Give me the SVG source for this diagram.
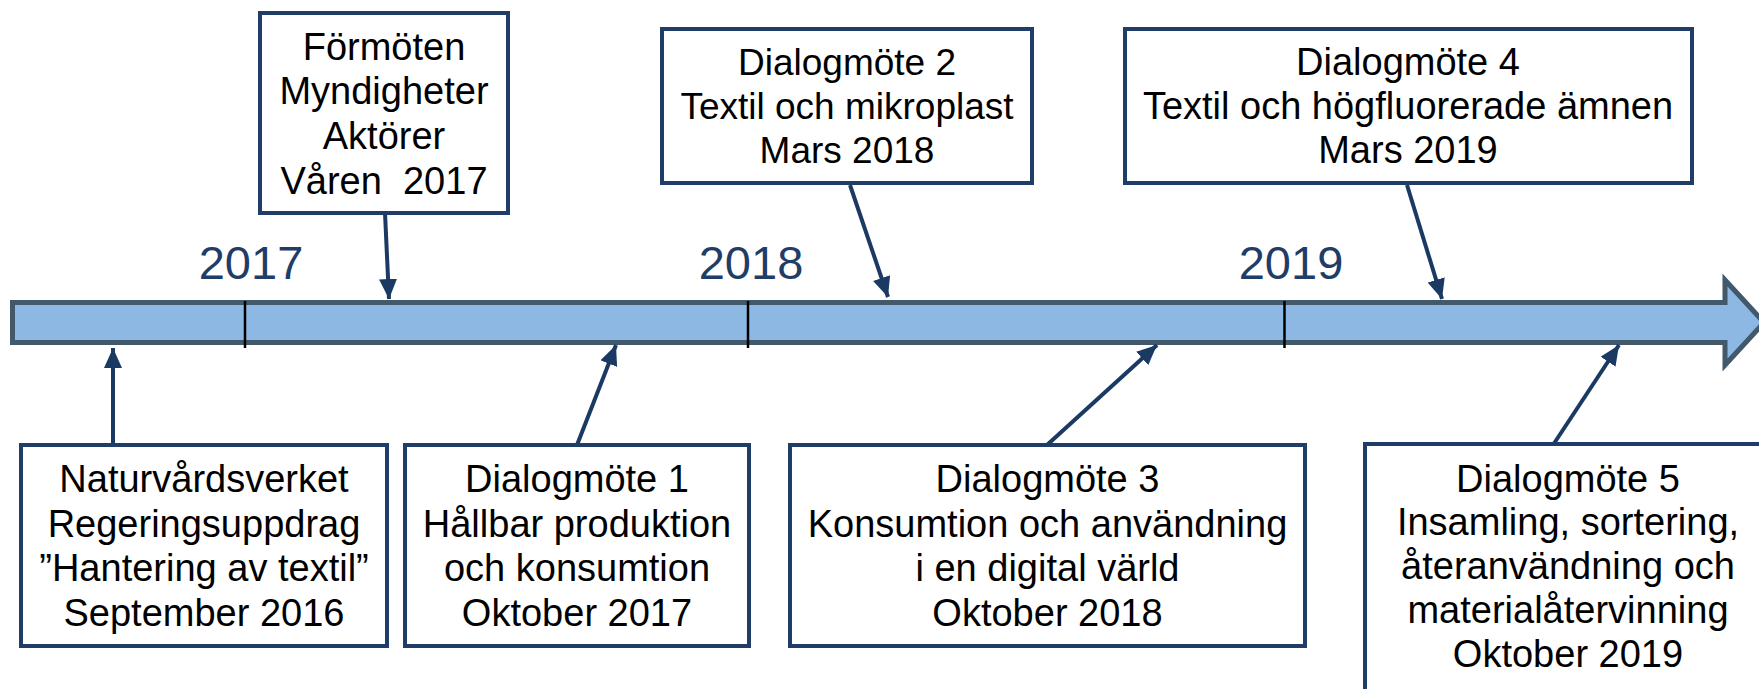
<svg xmlns="http://www.w3.org/2000/svg" width="1759" height="689" viewBox="0 0 1759 689">
<defs>
<style>
.box{fill:#ffffff;stroke:#1F3D66;stroke-width:4}
.t{font-family:"Liberation Sans",Arial,sans-serif;font-size:38px;fill:#000;text-anchor:middle}
.yr{font-family:"Liberation Sans",Arial,sans-serif;font-size:47px;fill:#1F3D66;text-anchor:middle}
.con{stroke:#1B3A63;stroke-width:4;fill:none;marker-end:url(#ah)}
.tick{stroke:#000;stroke-width:2.5}
</style>
<marker id="ah" markerUnits="userSpaceOnUse" markerWidth="20" markerHeight="18" viewBox="0 0 20 18" refX="20" refY="9" orient="auto">
<path d="M0,0 L20,9 L0,18 Z" fill="#1B3A63"/>
</marker>
</defs>
<rect width="1759" height="689" fill="#ffffff"/>
<g id="timeline">
<polygon points="12.5,302.5 1725,302.5 1725,280 1764,322.5 1725,365 1725,342.5 12.5,342.5" fill="#8DB8E3" stroke="#41596A" stroke-width="5"/>
<line class="tick" x1="245" y1="301" x2="245" y2="348"/>
<line class="tick" x1="748" y1="301" x2="748" y2="348"/>
<line class="tick" x1="1284.5" y1="301" x2="1284.5" y2="348"/>
<text class="yr" x="251" y="279">2017</text>
<text class="yr" x="751" y="279">2018</text>
<text class="yr" x="1291" y="279">2019</text>
</g>
<g id="connectors">
<line class="con" x1="113" y1="445" x2="113" y2="348"/>
<line class="con" x1="385" y1="213" x2="389" y2="299"/>
<line class="con" x1="577" y1="445" x2="616" y2="345"/>
<line class="con" x1="850" y1="185" x2="888" y2="297"/>
<line class="con" x1="1047" y1="445" x2="1157" y2="345"/>
<line class="con" x1="1407" y1="185" x2="1442" y2="299"/>
<line class="con" x1="1553" y1="445" x2="1619" y2="345"/>
</g>
<g id="n-formoten">
<rect class="box" x="260" y="13" width="248" height="200"/>
<text class="t" x="384" y="60">Förmöten</text>
<text class="t" x="384" y="104">Myndigheter</text>
<text class="t" x="384" y="149">Aktörer</text>
<text class="t" x="384" y="194" xml:space="preserve">Våren  2017</text>
</g>
<g id="n-naturvard">
<rect class="box" x="21" y="445" width="366" height="201"/>
<text class="t" x="204" y="492">Naturvårdsverket</text>
<text class="t" x="204" y="537">Regeringsuppdrag</text>
<text class="t" x="204" y="581">”Hantering av textil”</text>
<text class="t" x="204" y="626">September 2016</text>
</g>
<g id="n-dialog1">
<rect class="box" x="405" y="445" width="344" height="201"/>
<text class="t" x="577" y="492">Dialogmöte 1</text>
<text class="t" x="577" y="537">Hållbar produktion</text>
<text class="t" x="577" y="581">och konsumtion</text>
<text class="t" x="577" y="626">Oktober 2017</text>
</g>
<g id="n-dialog2">
<rect class="box" x="662" y="29" width="370" height="154"/>
<text class="t" x="847" y="75" style="font-size:37px">Dialogmöte 2</text>
<text class="t" x="847" y="119" style="font-size:37px">Textil och mikroplast</text>
<text class="t" x="847" y="163" style="font-size:37px">Mars 2018</text>
</g>
<g id="n-dialog3">
<rect class="box" x="790" y="445" width="515" height="201"/>
<text class="t" x="1047.5" y="492">Dialogmöte 3</text>
<text class="t" x="1047.5" y="537">Konsumtion och användning</text>
<text class="t" x="1047.5" y="581">i en digital värld</text>
<text class="t" x="1047.5" y="626">Oktober 2018</text>
</g>
<g id="n-dialog4">
<rect class="box" x="1125" y="29" width="567" height="154"/>
<text class="t" x="1408" y="75">Dialogmöte 4</text>
<text class="t" x="1408" y="119">Textil och högfluorerade ämnen</text>
<text class="t" x="1408" y="163">Mars 2019</text>
</g>
<g id="n-dialog5">
<rect class="box" x="1365" y="444" width="406" height="250"/>
<text class="t" x="1568" y="492">Dialogmöte 5</text>
<text class="t" x="1568" y="535">Insamling, sortering,</text>
<text class="t" x="1568" y="579">återanvändning och</text>
<text class="t" x="1568" y="623">materialåtervinning</text>
<text class="t" x="1568" y="667">Oktober 2019</text>
</g>
</svg>
